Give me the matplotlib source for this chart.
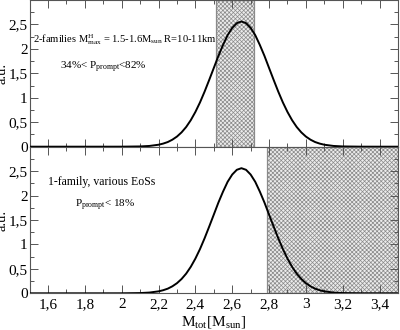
import matplotlib
matplotlib.use("Agg")
import matplotlib.pyplot as plt
from matplotlib.ticker import MultipleLocator

plt.rcParams['font.family'] = ['Liberation Serif', 'DejaVu Serif']
plt.rcParams['mathtext.fontset'] = 'custom'
plt.rcParams['mathtext.rm'] = 'Liberation Serif'
plt.rcParams['mathtext.it'] = 'Liberation Serif'
plt.rcParams['mathtext.default'] = 'regular'
plt.rcParams['hatch.color'] = '#b4b4b4'
plt.rcParams['hatch.linewidth'] = 0.5

# Distribution of total mass (a.u.)
m_tot = [1.50, 1.60, 1.70, 1.80, 1.90, 2.00, 2.10, 2.15, 2.20, 2.225, 2.25, 2.275,
         2.30, 2.325, 2.35, 2.375, 2.40, 2.425, 2.45, 2.475, 2.50, 2.525, 2.55,
         2.575, 2.60, 2.625, 2.65, 2.675, 2.70, 2.725, 2.75, 2.775, 2.80, 2.825,
         2.85, 2.875, 2.90, 2.925, 2.95, 2.975, 3.00, 3.025, 3.05, 3.075, 3.10,
         3.15, 3.20, 3.30, 3.40, 3.50]
density = [0.0, 0.0, 0.0, 0.0, 0.0, 0.0004, 0.005, 0.015, 0.040, 0.063, 0.095, 0.143,
           0.207, 0.293, 0.403, 0.542, 0.71, 0.905, 1.126, 1.365, 1.61, 1.857, 2.08,
           2.281, 2.43, 2.527, 2.56, 2.527, 2.43, 2.281, 2.08, 1.857, 1.61, 1.365,
           1.126, 0.905, 0.71, 0.542, 0.403, 0.293, 0.207, 0.143, 0.095, 0.063, 0.040,
           0.015, 0.005, 0.0004, 0.0, 0.0]

# Shaded bands
band_top = (2.51, 2.72)
band_bottom = (2.79, 3.5)

xticks = [1.6, 1.8, 2.0, 2.2, 2.4, 2.6, 2.8, 3.0, 3.2, 3.4]
xtick_labels = ['1,6', '1,8', '2', '2,2', '2,4', '2,6', '2,8', '3', '3,2', '3,4']
yticks = [0, 0.5, 1.0, 1.5, 2.0, 2.5]
ytick_labels = ['0', '0,5', '1', '1,5', '2', '2,5']

fig = plt.figure(figsize=(4.0, 3.3), dpi=100)
L, R = 0.074, 0.995
ax1 = fig.add_axes([L, 0.5555, R - L, 0.4445])
ax2 = fig.add_axes([L, 0.1112, R - L, 0.4443])

for ax, band in ((ax1, band_top), (ax2, band_bottom)):
    ax.axvspan(band[0], band[1], facecolor='#ececec', edgecolor='#8a8a8a',
               hatch='xxxxxxxx', linewidth=0.9, zorder=1)
    ax.plot(m_tot, density, color='black', lw=1.4, zorder=3)
    ax.set_xlim(1.5, 3.5)
    ax.set_ylim(0, 3.0)
    ax.set_xticks(xticks)
    ax.set_yticks(yticks)
    ax.set_yticklabels(ytick_labels)
    ax.xaxis.set_minor_locator(MultipleLocator(0.1))
    ax.yaxis.set_minor_locator(MultipleLocator(0.25))
    ax.tick_params(which='both', direction='in', top=True, right=True,
                   labelsize=11, width=0.7, colors='#555555', labelcolor='black')
    ax.tick_params(which='major', length=6)
    ax.tick_params(which='minor', length=3)
    ax.tick_params(axis='y', pad=1.5)
    for s in ax.spines.values():
        s.set_color('#555555')
        s.set_linewidth(0.8)
    ax.set_ylabel('a.u.', fontsize=10.5)
    ax.yaxis.set_label_coords(-0.056, 0.5)

ax1.set_xticklabels([])
ax2.set_xticklabels(xtick_labels)
ax2.set_xlabel(r'M$_{tot}$[M$_{sun}$]', fontsize=11, labelpad=2)

ax1.text(1.519, 2.20, r'2-families M$^{H}_{max}$ = 1.5-1.6M$_{sun}$ R=10-11km',
         fontsize=7.6, va='center', ha='left')
ax1.text(1.664, 1.63, r'34%< P$_{prompt}$<82%', fontsize=8, va='center', ha='left')
ax2.text(1.60, 2.27, '1-family, various EoSs', fontsize=8.5, va='center', ha='left')
ax2.text(1.745, 1.80, r'P$_{prompt}$< 18%', fontsize=8, va='center', ha='left')

fig.savefig('out.png', dpi=100)
